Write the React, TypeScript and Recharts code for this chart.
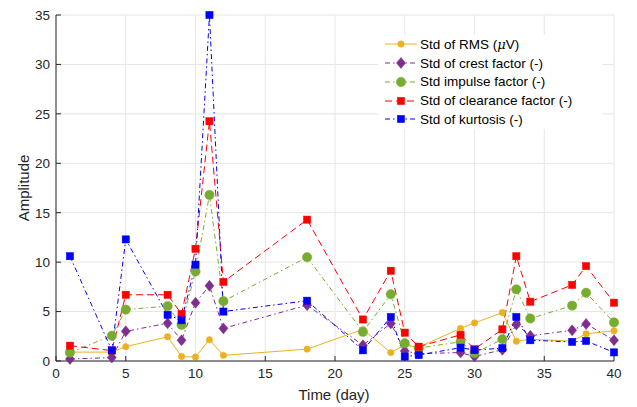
import React from "react";
import { LineChart, Line, XAxis, YAxis, CartesianGrid, Label } from "recharts";

const days = [1, 4, 5, 8, 9, 10, 11, 12, 18, 22, 24, 25, 26, 29, 30, 32, 33, 34, 37, 38, 40];
const stdRms = [0.9, 0.9, 1.45, 2.45, 0.45, 0.4, 2.15, 0.57, 1.2, 3.2, 0.85, 1.6, 1.4, 3.3, 3.85, 4.9, 2.0, 2.2, 2.0, 2.75, 3.05];
const stdCrest = [0.2, 0.35, 3.0, 3.82, 2.1, 5.9, 7.6, 3.3, 5.65, 1.6, 3.8, 1.0, 0.75, 0.85, 0.45, 1.15, 3.7, 2.55, 3.1, 3.75, 2.1];
const stdImpulse = [0.85, 2.55, 5.2, 5.55, 3.65, 9.05, 16.8, 6.05, 10.5, 2.95, 6.75, 1.8, 1.3, 1.95, 0.8, 2.2, 7.25, 4.3, 5.6, 6.9, 3.9];
const stdClearance = [1.55, 1.05, 6.7, 6.7, 4.75, 11.35, 24.25, 8.0, 14.3, 4.2, 9.13, 2.87, 1.45, 2.65, 1.2, 3.2, 10.6, 6.0, 7.7, 9.6, 5.9];
const stdKurtosis = [10.6, 1.08, 12.3, 4.67, 4.12, 9.75, 35, 5.0, 6.1, 1.08, 4.45, 0.45, 0.6, 1.35, 1.1, 1.3, 4.45, 2.1, 1.93, 2.03, 0.87];

const xTicks = [0, 5, 10, 15, 20, 25, 30, 35, 40];
const yTicks = [0, 5, 10, 15, 20, 25, 30, 35];

const data = days.map((d, i) => ({
  day: d,
  rms: stdRms[i],
  crest: stdCrest[i],
  impulse: stdImpulse[i],
  clearance: stdClearance[i],
  kurtosis: stdKurtosis[i],
}));

const FONT = "'Liberation Sans', Arial, sans-serif";
const AXIS = "#262626";

type Marker = "circle" | "diamond" | "square";

function MarkerShape({ kind, cx, cy, size, color }: { kind: Marker; cx: number; cy: number; size: number; color: string }) {
  if (kind === "circle") return <circle cx={cx} cy={cy} r={size} fill={color} stroke={color} strokeWidth={0.5} />;
  if (kind === "diamond")
    return (
      <polygon
        points={`${cx},${cy - size * 1.1} ${cx + size * 0.9},${cy} ${cx},${cy + size * 1.1} ${cx - size * 0.9},${cy}`}
        fill={color}
        stroke={color}
        strokeWidth={0.5}
      />
    );
  return <rect x={cx - size} y={cy - size} width={size * 2} height={size * 2} fill={color} stroke={color} strokeWidth={0.5} />;
}

const series = [
  { key: "rms", name: "Std of RMS (\u03bcV)", color: "#EDB120", marker: "circle" as Marker, size: 3.2, dash: undefined },
  { key: "crest", name: "Std of crest factor (-)", color: "#7E2F8E", marker: "diamond" as Marker, size: 5, dash: "5 3 1.5 3" },
  { key: "impulse", name: "Std impulse factor (-)", color: "#77AC30", marker: "circle" as Marker, size: 4.7, dash: "5 3 1.5 3" },
  { key: "clearance", name: "Std of clearance factor (-)", color: "#FF0000", marker: "square" as Marker, size: 3.6, dash: "7 4" },
  { key: "kurtosis", name: "Std of kurtosis (-)", color: "#0000FF", marker: "square" as Marker, size: 3.6, dash: "5 3 1.5 3" },
];

function renderDot(s: (typeof series)[number]) {
  return (props: any) => {
    const { cx, cy, index } = props;
    if (cx == null || cy == null) return <g key={index} />;
    return (
      <g key={`${s.key}-${index}`}>
        <MarkerShape kind={s.marker} cx={cx} cy={cy} size={s.size} color={s.color} />
      </g>
    );
  };
}

// the mu in the first entry is italic, as in the TeX legend
function LegendName({ name }: { name: string }) {
  const parts = name.split("\u03bc");
  if (parts.length < 2) return <>{name}</>;
  return (
    <>
      {parts[0]}
      <i style={{ fontFamily: "'DejaVu Serif', serif", fontSize: 13 }}>{"\u03bc"}</i>
      {parts[1]}
    </>
  );
}

function LegendBox() {
  return (
    <div
      style={{
        position: "absolute",
        left: 378,
        top: 35,
        width: 224,
        background: "#fff",
        fontFamily: FONT,
        fontSize: 13.5,
        color: "#000",
      }}
    >
      {series.map((s) => (
        <div key={s.key} style={{ display: "flex", alignItems: "center", height: 18.75 }}>
          <svg width={40} height={18} style={{ flex: "none" }}>
            <line x1={7} y1={9} x2={39} y2={9} stroke={s.color} strokeWidth={1} strokeDasharray={s.dash} />
            <MarkerShape kind={s.marker} cx={23} cy={9} size={s.size} color={s.color} />
          </svg>
          <span style={{ marginLeft: 2, whiteSpace: "nowrap" }}>
            <LegendName name={s.name} />
          </span>
        </div>
      ))}
    </div>
  );
}

export default function App() {
  const tickStyle = { fontSize: 13.5, fill: AXIS, fontFamily: FONT };
  return (
    <div style={{ position: "absolute", left: 0, top: 0, width: 637, height: 407, background: "#fff" }}>
      <LineChart width={637} height={407} data={data} margin={{ top: 15, right: 23, bottom: 0, left: 0 }}>
        <CartesianGrid stroke="#e6e6e6" strokeWidth={1} horizontalValues={yTicks} verticalValues={xTicks} />
        <XAxis
          dataKey="day"
          type="number"
          domain={[0, 40]}
          ticks={xTicks}
          height={46}
          axisLine={{ stroke: AXIS }}
          tickLine={{ stroke: AXIS }}
          tickSize={-5}
          tickMargin={12}
          tick={tickStyle}
          interval={0}
        >
          <Label
            content={() => (
              <text x={334} y={400} textAnchor="middle" fontFamily={FONT} fontSize={15} fill={AXIS}>
                Time (day)
              </text>
            )}
          />
        </XAxis>
        <XAxis
          xAxisId="top"
          orientation="top"
          type="number"
          domain={[0, 40]}
          ticks={xTicks}
          height={0}
          axisLine={{ stroke: AXIS }}
          tickLine={{ stroke: AXIS }}
          tickSize={-5}
          tick={false}
          interval={0}
        />
        <YAxis
          type="number"
          domain={[0, 35]}
          ticks={yTicks}
          width={56}
          axisLine={{ stroke: AXIS }}
          tickLine={{ stroke: AXIS }}
          tickSize={-5}
          tickMargin={11}
          tick={tickStyle}
          interval={0}
        >
          <Label
            content={() => (
              <text
                x={23}
                y={188}
                transform="rotate(-90 23 188)"
                textAnchor="middle"
                dominantBaseline="central"
                fontFamily={FONT}
                fontSize={15}
                fill={AXIS}
              >
                Amplitude
              </text>
            )}
          />
        </YAxis>
        <YAxis
          yAxisId="right"
          orientation="right"
          type="number"
          domain={[0, 35]}
          ticks={yTicks}
          width={0}
          axisLine={{ stroke: AXIS }}
          tickLine={{ stroke: AXIS }}
          tickSize={-5}
          tick={false}
          interval={0}
        />
        {series.map((s) => (
          <Line
            key={s.key}
            type="linear"
            dataKey={s.key}
            name={s.name}
            stroke={s.color}
            strokeWidth={1}
            strokeDasharray={s.dash}
            dot={renderDot(s)}
            activeDot={false}
            isAnimationActive={false}
          />
        ))}
      </LineChart>
      <LegendBox />
    </div>
  );
}
